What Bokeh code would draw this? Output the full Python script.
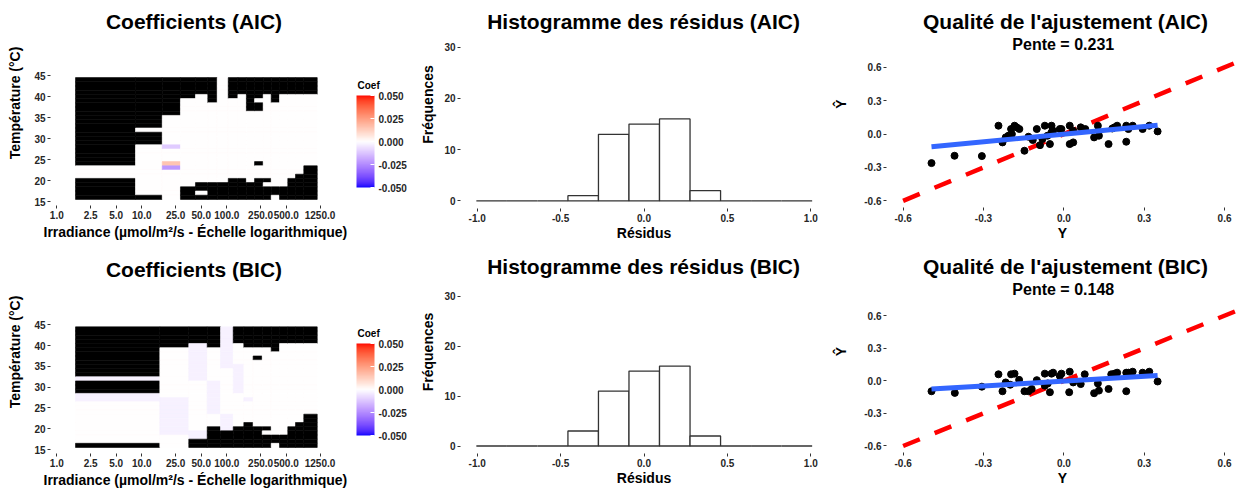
import numpy as np
from bokeh.plotting import figure
from bokeh.models import (ColumnDataSource, LinearColorMapper, ColorBar, FixedTicker,
                          PrintfTickFormatter, Range1d, Label, Title)
from bokeh.layouts import row, column
from bokeh.embed import file_html
from bokeh.resources import INLINE

FONT = "Liberation Sans"

# ---------------- data ----------------
# heatmap rows (temperature, top to bottom)
temps = [44, 43, 42, 41, 40, 39, 38, 37, 36, 35, 34, 33, 32, 31, 30,
         29, 28, 27, 26, 25, 24, 23, 22, 21, 20, 19, 18, 17, 16]
irr_ticks = [1, 2.5, 5, 10, 25, 50, 100, 250, 500, 1250]
temp_ticks = [15, 20, 25, 30, 35, 40, 45]

# cell codes: '#' = NA (black), '.' = 0, others = coefficient values
coef_codes = {'#': np.nan, '.': 0.0, 'a': -0.011, 'b': 0.015, 'c': -0.022, 'l': -0.003}

aic_edges = [1.66, 8.43, 17.4, 28.5, 42.8, 59.8, 77.1, 104, 135, 170, 212,
             268, 333, 417, 522, 643, 805, 1158]
aic_cols = [
    "#####################...#####",
    "############.###............#",
    "#########.......a...bc.......",
    "#####.....................###",
    "####.....................##.#",
    "######...................####",
    ".........................####",
    "#####...................#####",
    "####....................#####",
    "########.................####",
    "#####.##............#...#####",
    "####....................#.###",
    "######....................##.",
    "####......................###",
    "####....................#####",
    "####...................######",
    "####.................########",
]

bic_edges = [1.66, 16.3, 35.7, 58.8, 84.4, 119, 158.6, 204, 261, 333, 417,
             522, 643, 805, 1158]
bic_cols = [
    "############l###ll..........#",
    "#####............lllllllll...",
    "####lllllllll............ll##",
    "#####........llllllll...#####",
    "llllllllll...........llll####",
    "####.....lllllll........#####",
    "#####............l.....######",
    "#####..#................#####",
    "#####...................#.###",
    "######....................##.",
    "####......................###",
    "####....................#####",
    "####...................######",
    "####.................########",
]

# histogram of residuals
hist_edges = [-1.005, -0.822, -0.639, -0.456, -0.273, -0.090, 0.093, 0.276,
              0.459, 0.642, 0.825, 1.008]
hist_aic = [0, 0, 0, 1, 13, 15, 16, 2, 0, 0, 0]
hist_bic = [0, 0, 0, 3, 11, 15, 16, 2, 0, 0, 0]

# goodness of fit (observed Y vs predicted)
aic_obs = [-0.494, -0.408, -0.306, -0.244, -0.229, -0.217, -0.207, -0.197, -0.194,
           -0.184, -0.176, -0.166, -0.147, -0.132, -0.116, -0.101, -0.089, -0.080,
           -0.071, -0.061, -0.052, -0.046, -0.046, -0.040, -0.015, -0.009, 0.022,
           0.022, 0.035, 0.035, 0.063, 0.080, 0.113, 0.127, 0.131, 0.167, 0.181,
           0.189, 0.199, 0.233, 0.233, 0.241, 0.257, 0.294, 0.319, 0.350]
aic_pred = [-0.261, -0.195, -0.198, 0.075, -0.075, -0.030, -0.015, 0.045, 0.000,
            0.075, 0.060, 0.045, -0.150, -0.024, -0.054, 0.045, -0.100, -0.045,
            0.075, -0.015, -0.090, 0.075, 0.015, 0.030, 0.045, 0.045, 0.075,
            -0.090, -0.075, 0.030, 0.060, 0.045, -0.030, 0.075, -0.015, -0.090,
            0.050, 0.060, 0.075, 0.075, -0.069, 0.045, 0.075, 0.045, 0.075, 0.024]
bic_obs = [-0.494, -0.407, -0.306, -0.244, -0.229, -0.217, -0.200, -0.197, -0.184,
           -0.167, -0.147, -0.132, -0.120, -0.101, -0.071, -0.071, -0.060, -0.052,
           -0.046, -0.040, -0.015, -0.009, 0.022, 0.020, 0.035, 0.063, 0.078, 0.113,
           0.127, 0.131, 0.167, 0.177, 0.189, 0.199, 0.233, 0.233, 0.241, 0.257,
           0.294, 0.319, 0.350]
bic_pred = [-0.096, -0.111, -0.054, 0.060, -0.096, -0.015, -0.036, 0.060, 0.066,
            0.009, -0.096, -0.096, -0.075, 0.006, 0.066, -0.045, -0.024, -0.105,
            0.066, 0.075, 0.045, 0.066, 0.084, -0.105, -0.015, -0.030, 0.060, -0.114,
            -0.024, -0.090, -0.075, 0.060, 0.066, 0.075, -0.096, 0.075, 0.075, 0.084,
            0.075, 0.084, -0.006]
fit_aic = (0.231, -0.001)   # slope, intercept
fit_bic = (0.148, -0.003)
ident = [-0.6, 0.657]

# ---------------- colour scale (Lab interpolation blue-white-red) ----------------
def _srgb_to_lab(c):
    c = np.asarray(c, float) / 255.0
    lin = np.where(c <= 0.04045, c / 12.92, ((c + 0.055) / 1.055) ** 2.4)
    M = np.array([[0.4124, 0.3576, 0.1805], [0.2126, 0.7152, 0.0722], [0.0193, 0.1192, 0.9505]])
    xyz = M @ lin / np.array([0.95047, 1.0, 1.08883])
    f = np.where(xyz > 0.008856, np.cbrt(xyz), 7.787 * xyz + 16 / 116)
    return np.array([116 * f[1] - 16, 500 * (f[0] - f[1]), 200 * (f[1] - f[2])])

def _lab_to_hex(lab):
    L, a, b = lab
    fy = (L + 16) / 116; fx = fy + a / 500; fz = fy - b / 200
    f = np.array([fx, fy, fz])
    xyz = np.where(f ** 3 > 0.008856, f ** 3, (f - 16 / 116) / 7.787) * np.array([0.95047, 1.0, 1.08883])
    Mi = np.array([[3.2406, -1.5372, -0.4986], [-0.9689, 1.8758, 0.0415], [0.0557, -0.2040, 1.0570]])
    lin = np.clip(Mi @ xyz, 0, 1)
    c = np.where(lin <= 0.0031308, 12.92 * lin, 1.055 * lin ** (1 / 2.4) - 0.055)
    c = np.clip(np.round(c * 255), 0, 255).astype(int)
    return "#%02x%02x%02x" % tuple(c)

lab_lo, lab_mid, lab_hi = _srgb_to_lab([0, 0, 255]), _srgb_to_lab([255, 255, 255]), _srgb_to_lab([255, 0, 0])
palette = []
for t in np.linspace(-1, 1, 256):
    if t < 0:
        palette.append(_lab_to_hex(lab_mid + (lab_lo - lab_mid) * (-t)))
    else:
        palette.append(_lab_to_hex(lab_mid + (lab_hi - lab_mid) * t))

# ---------------- helpers ----------------
def style(p, tick_size="10px"):
    for ax in list(p.xaxis) + list(p.yaxis):
        ax.axis_line_color = None
        ax.major_tick_line_color = "#333333"
        ax.major_tick_out = 3
        ax.major_tick_in = 0
        ax.minor_tick_line_color = None
        ax.major_label_text_font = FONT
        ax.major_label_text_font_style = "bold"
        ax.major_label_text_font_size = tick_size
        ax.major_label_text_color = "#262626"
        ax.major_label_standoff = 2
        ax.axis_label_text_font = FONT
        ax.axis_label_text_font_style = "bold"
        ax.axis_label_text_font_size = "14px"
        ax.axis_label_text_color = "black"
    p.xgrid.grid_line_color = None
    p.ygrid.grid_line_color = None
    p.outline_line_color = None
    p.background_fill_color = "white"
    p.border_fill_color = "white"


def add_text(p, text, fx, fy, size, frame, align="center"):
    left, frame_bottom = frame
    p.add_layout(Label(x=fx - left, y=frame_bottom - fy, x_units="screen", y_units="screen",
                       text=text, text_align=align, text_baseline="middle",
                       text_font=FONT, text_font_size=size, text_font_style="bold",
                       text_color="black"))


def make_heat(edges, cols, title, h, bottom):
    # frame spans the whole figure above the x axis; ranges keep the panel mapping
    p = figure(width=410, height=h, x_axis_type="log",
               x_range=Range1d(0.843, 14490), y_range=Range1d(14.05, 62.86),
               output_backend="svg", toolbar_location=None, title=None,
               min_border_left=50, min_border_right=0, min_border_top=0,
               min_border_bottom=bottom)
    frame = (50, h - bottom)
    left, right, bot, top, val = [], [], [], [], []
    for j, s in enumerate(cols):
        for i, ch in enumerate(s):
            left.append(edges[j]); right.append(edges[j + 1])
            bot.append(temps[i] - 0.5); top.append(temps[i] + 0.5)
            val.append(coef_codes[ch])
    src = ColumnDataSource(dict(left=left, right=right, bottom=bot, top=top,
                                coef=np.array(val, dtype=float)))
    mapper = LinearColorMapper(palette=palette, low=-0.05, high=0.05, nan_color="black")
    p.quad(left="left", right="right", bottom="bottom", top="top", source=src,
           fill_color={"field": "coef", "transform": mapper},
           line_color={"field": "coef", "transform": mapper}, line_width=0.6)
    style(p)
    p.xaxis.ticker = FixedTicker(ticks=irr_ticks)
    p.xaxis.formatter = PrintfTickFormatter(format="%.1f")
    p.yaxis.ticker = FixedTicker(ticks=temp_ticks)
    p.yaxis.axis_label = "Température (°C)"
    p.yaxis.axis_label_standoff = 8
    # x-axis title, left-aligned under the data panel
    p.add_layout(Title(text="Irradiance (µmol/m²/s - Échelle logarithmique)", align="left",
                       offset=-7, standoff=1, text_font=FONT, text_font_size="14px",
                       text_font_style="bold", text_color="black"), "below")
    cb = ColorBar(color_mapper=mapper, width=18, height=92,
                  ticker=FixedTicker(ticks=[-0.05, -0.025, 0, 0.025, 0.05]),
                  formatter=PrintfTickFormatter(format="%.3f"),
                  location=(306, 18), margin=0, padding=0,
                  major_label_text_font=FONT, major_label_text_font_size="10px",
                  major_label_text_font_style="bold", major_label_text_color="#262626",
                  major_tick_line_color="white", major_tick_in=4, major_tick_out=0,
                  bar_line_color=None, label_standoff=4,
                  background_fill_color=None, border_line_color=None)
    p.add_layout(cb)
    add_text(p, "Coef", 357, 85, "10px", frame, align="left")
    add_text(p, title, 193.5, 20.5, "21px", frame)
    return p


def make_hist(counts, title, h, bottom):
    p = figure(width=420, height=h, x_range=Range1d(-1.1, 1.1), y_range=Range1d(-1.5, 39.14),
               output_backend="svg", toolbar_location=None, title=None,
               min_border_left=50, min_border_right=3, min_border_top=0,
               min_border_bottom=bottom)
    frame = (50, h - bottom)
    p.quad(left=hist_edges[:-1], right=hist_edges[1:], bottom=0, top=counts,
           fill_color="white", line_color="#333333", line_width=1.3)
    style(p)
    p.xaxis.ticker = FixedTicker(ticks=[-1.0, -0.5, 0.0, 0.5, 1.0])
    p.xaxis.formatter = PrintfTickFormatter(format="%.1f")
    p.yaxis.ticker = FixedTicker(ticks=[0, 10, 20, 30])
    p.xaxis.axis_label = "Résidus"
    p.yaxis.axis_label = "Fréquences"
    p.xaxis.axis_label_standoff = 0
    p.yaxis.axis_label_standoff = 5
    add_text(p, title, 233, 20.5, "21px", frame)
    return p


def make_scatter(obs, pred, fit, title, sub, h, bottom):
    p = figure(width=408, height=h, x_range=Range1d(-0.662, 0.652), y_range=Range1d(-0.66, 1.2),
               output_backend="svg", toolbar_location=None, title=None,
               min_border_left=54, min_border_right=0, min_border_top=0,
               min_border_bottom=bottom)
    frame = (54, h - bottom)
    p.line(ident, ident, line_color="red", line_width=4.5, line_dash="18 16")
    p.scatter(obs, pred, size=7, fill_color="black", line_color="black")
    xs = [min(obs), max(obs)]
    p.line(xs, [fit[0] * x + fit[1] for x in xs], line_color="#3366FF", line_width=5)
    style(p)
    p.xaxis.ticker = FixedTicker(ticks=[-0.6, -0.3, 0.0, 0.3, 0.6])
    p.yaxis.ticker = FixedTicker(ticks=[-0.6, -0.3, 0.0, 0.3, 0.6])
    p.xaxis.formatter = PrintfTickFormatter(format="%.1f")
    p.yaxis.formatter = PrintfTickFormatter(format="%.1f")
    p.xaxis.axis_label = "Y"
    p.yaxis.axis_label = "Ŷ"
    p.xaxis.major_label_standoff = 3
    p.xaxis.axis_label_standoff = 0
    p.yaxis.axis_label_standoff = 12
    add_text(p, title, 233, 20.5, "21px", frame)
    add_text(p, sub, 233, 43.5, "16px", frame)
    return p


h1, h2 = 250, 238
r1 = row(column(make_heat(aic_edges, aic_cols, "Coefficients (AIC)", h1, 45)),
         column(make_hist(hist_aic, "Histogramme des résidus (AIC)", h1, 42)),
         column(make_scatter(aic_obs, aic_pred, fit_aic, "Qualité de l'ajustement (AIC)",
                             "Pente =  0.231", h1, 43)))
r2 = row(column(make_heat(bic_edges, bic_cols, "Coefficients (BIC)", h2, 33)),
         column(make_hist(hist_bic, "Histogramme des résidus (BIC)", h2, 30)),
         column(make_scatter(bic_obs, bic_pred, fit_bic, "Qualité de l'ajustement (BIC)",
                             "Pente =  0.148", h2, 31)))
layout = column(r1, r2)

open("out.html", "w").write(file_html(layout, INLINE))
